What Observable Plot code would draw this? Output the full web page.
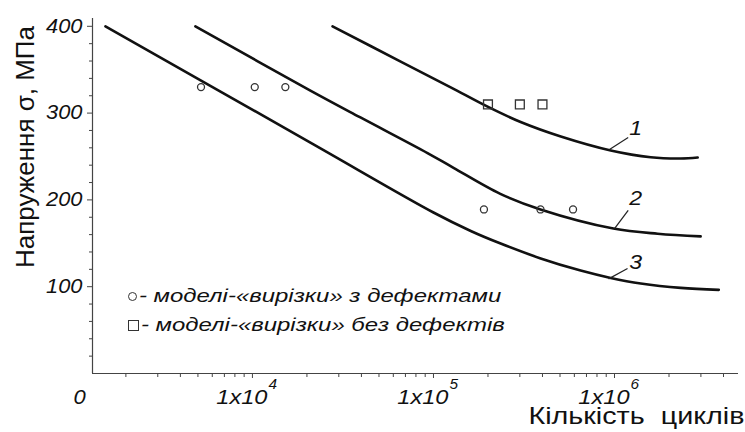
<!DOCTYPE html>
<html><head><meta charset="utf-8">
<script src="https://cdn.jsdelivr.net/npm/d3@7"></script>
<script src="https://cdn.jsdelivr.net/npm/@observablehq/plot@0.6"></script>
<style>
body{margin:0;background:#fff;}
#wrap{position:relative;width:745px;height:432px;overflow:hidden;}
svg text{white-space:pre;}
.leg{position:absolute;left:128px;font:italic 19px "Liberation Sans",Arial,sans-serif;color:#111;white-space:nowrap;display:flex;align-items:center;}
.leg .t{display:inline-block;transform:scaleX(1.26);transform-origin:left center;}
.sym{display:inline-block;box-sizing:border-box;border:1.3px solid #333;margin-right:2px;}
.c{width:9px;height:9px;border-radius:50%;}
.s{width:11px;height:11px;}
</style></head>
<body><div id="wrap"></div>
<script>
// axis settings
const xDomain = [1308, 4.84e6];
const yDomain = [0, 409];
const yTicks = [100, 200, 300, 400];
const yMinor = [20,40,60,80,120,140,160,180,220,240,260,280,320,340,360,380];
const xMajor = [1e4, 1e5, 1e6];
const xMajorBase = ["1x10", "1x10", "1x10"];
const xMajorExp = ["4", "5", "6"];
const xMinor = [2000,3000,4000,5000,6000,7000,8000,9000,
  20000,30000,40000,50000,60000,70000,80000,90000,
  200000,300000,400000,500000,600000,700000,800000,900000,
  2000000,3000000,4000000];
const originLabel = ["0"];
const yTitle = "Напруження σ, МПа";
const xTitle = "Кількість  циклів";

// curves
const curve1X = [27700, 65900, 124500, 199000, 303000, 505000, 953000, 1585000, 2320000, 2880000];
const curve1Y = [400, 359.4, 329.7, 307.4, 289.7, 273, 256.9, 249.1, 247.7, 248.8];
const curve2X = [4840, 20900, 39500, 92700, 129000, 234000, 390000, 986000, 1730000, 2990000];
const curve2Y = [400, 326, 295, 254, 237, 207, 189, 167, 161, 158];
const curve3X = [1542, 20900, 100000, 160700, 235000, 391000, 650000, 953000, 1396000, 2323000, 3767000];
const curve3Y = [400, 266, 185.5, 164.2, 149.7, 132.6, 118.6, 110.1, 103.7, 98.6, 96.4];

// experimental points
const circlesX = [5200, 10300, 15200, 190000, 390000, 590000];
const circlesY = [330, 330, 330, 189, 189, 189];
const squaresX = [200000, 300000, 400000];
const squaresY = [310, 310, 310];

// curve labels with leaders
const labelNames = ["1", "2", "3"];
const labelX = [1310000, 1310000, 1310000];
const labelY = [282, 202, 128];
const leadX1 = [938000, 1000000, 927000];
const leadY1 = [258, 167, 109];
const leadX2 = [1190000, 1190000, 1180000];
const leadY2 = [272, 188, 121];

// legend
const legendItems = ["- моделі-«вирізки» з дефектами", "- моделі-«вирізки» без дефектів"];

const toPts = (xs, ys) => xs.map((x, i) => ({x, y: ys[i]}));
const curves = [toPts(curve1X, curve1Y), toPts(curve2X, curve2Y), toPts(curve3X, curve3Y)];
const labels = labelNames.map((t, i) => ({t, x: labelX[i], y: labelY[i], x1: leadX1[i], y1: leadY1[i], x2: leadX2[i], y2: leadY2[i]}));
const xl = xMajor.map((v, i) => ({v, b: xMajorBase[i], e: xMajorExp[i]}));

const FONT = '"Liberation Sans", Arial, sans-serif';
const AX = "#444";

const chart = Plot.plot({
  width: 745, height: 432,
  marginLeft: 92, marginRight: 7, marginTop: 18, marginBottom: 59,
  x: {type: "log", domain: xDomain, axis: null},
  y: {domain: yDomain, axis: null},
  style: {fontFamily: FONT, fontSize: "19px", color: "#111", background: "#fff", overflow: "visible"},
  marks: [
    Plot.ruleX([xDomain[0]], {stroke: AX, strokeWidth: 1.2}),
    Plot.ruleY([yDomain[0]], {stroke: AX, strokeWidth: 1.2}),
    Plot.axisY({ticks: yMinor, tickSize: 3, tickFormat: () => "", stroke: AX, label: null}),
    Plot.axisY({ticks: yTicks, tickSize: 5, tickFormat: () => "", stroke: AX, label: null}),
    Plot.axisX({ticks: xMinor, tickSize: 4, tickFormat: () => "", stroke: AX, label: null}),
    Plot.axisX({ticks: xMajor, tickSize: 5, tickFormat: () => "", stroke: AX, label: null}),
    Plot.text(yTicks, {y: d => d, text: d => String(d), frameAnchor: "left", textAnchor: "end", dx: -10, fontSize: 19.5, fontStyle: "italic", fill: "#111", ariaDescription: "s112"}),
    Plot.text(xl, {x: "v", text: "b", frameAnchor: "bottom", lineAnchor: "bottom", textAnchor: "end", dx: 15, dy: 30, fontSize: 20, fontStyle: "italic", fill: "#111", ariaDescription: "s118"}),
    Plot.text(xl, {x: "v", text: "e", frameAnchor: "bottom", lineAnchor: "bottom", textAnchor: "start", dx: 16, dy: 15, fontSize: 14, fontStyle: "italic", fill: "#111", ariaDescription: "s110"}),
    Plot.text(originLabel, {x: () => xDomain[0], text: d => d, frameAnchor: "bottom", lineAnchor: "bottom", textAnchor: "middle", dx: -13, dy: 30, fontSize: 20, fontStyle: "italic", fill: "#111", ariaDescription: "s110"}),
    Plot.text([yTitle], {text: d => d, frameAnchor: "left", rotate: -90, lineAnchor: "bottom", textAnchor: "middle", dx: -59, dy: -49, fontSize: 26, fill: "#111"}),
    Plot.text([xTitle], {text: d => d, frameAnchor: "bottom-right", lineAnchor: "bottom", textAnchor: "end", dx: 6, dy: 50, fontSize: 23, fill: "#111", ariaDescription: "s125"}),
    ...curves.map(c => Plot.line(c, {x: "x", y: "y", curve: "catmull-rom", stroke: "#111", strokeWidth: 2.6})),
    Plot.dot(toPts(circlesX, circlesY), {x: "x", y: "y", r: 3.5, stroke: "#333", strokeWidth: 1.3, fill: "none"}),
    Plot.dot(toPts(squaresX, squaresY), {x: "x", y: "y", r: 5, symbol: "square", stroke: "#333", strokeWidth: 1.3, fill: "none"}),
    Plot.link(labels, {x1: "x1", y1: "y1", x2: "x2", y2: "y2", stroke: "#222", strokeWidth: 1.2}),
    Plot.text(labels, {x: "x", y: "y", text: "t", fontSize: 21, fontStyle: "italic", fill: "#111", ariaDescription: "s110"})
  ]
});
// horizontally widen texts to match the reference's wide lettering
d3.select(chart).selectAll("g").each(function() {
  const a = this.getAttribute("aria-description");
  if (!a || !a.startsWith("s1")) return;
  const k = +a.slice(1) / 100;
  d3.select(this).selectAll("text").each(function() {
    const t = this.getAttribute("transform");
    if (t) this.setAttribute("transform", t + ` scale(${k},1)`);
  });
});
const wrap = document.getElementById("wrap");
wrap.appendChild(chart);
const tops = [285, 314];
const cls = ["c", "s"];
legendItems.forEach((t, i) => {
  const d = document.createElement("div");
  d.className = "leg";
  d.style.top = tops[i] + "px";
  const s = document.createElement("span");
  s.className = "sym " + cls[i];
  d.appendChild(s);
  const tx = document.createElement("span");
  tx.className = "t";
  tx.textContent = t;
  d.appendChild(tx);
  wrap.appendChild(d);
});
</script></body></html>
